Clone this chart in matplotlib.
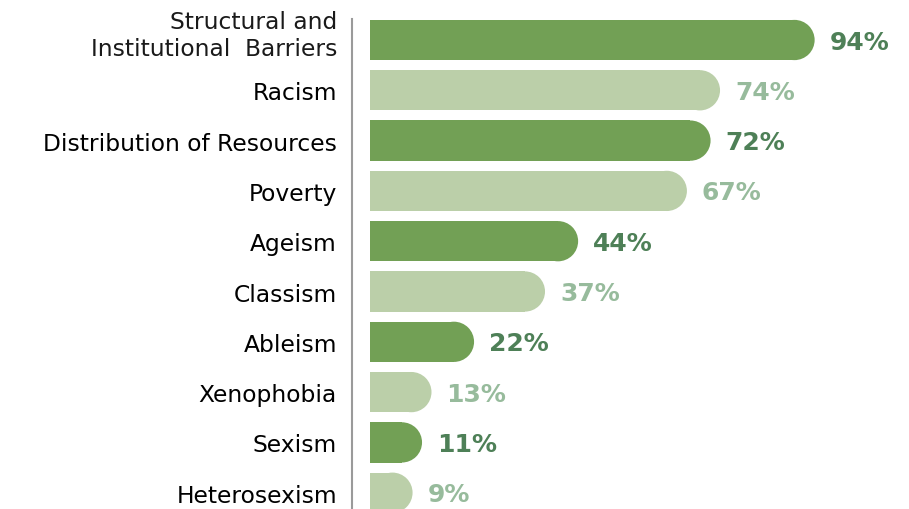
import matplotlib.pyplot as plt
from matplotlib.patches import Rectangle, Ellipse
from matplotlib.transforms import offset_copy, blended_transform_factory

categories = ["Structural and\nInstitutional  Barriers", "Racism", "Distribution of Resources",
              "Poverty", "Ageism", "Classism", "Ableism", "Xenophobia", "Sexism", "Heterosexism"]
values = [94, 74, 72, 67, 44, 37, 22, 13, 11, 9]

bar_colors = ["#72a055", "#bbcfa9"]
text_colors = ["#4e8057", "#97bb9c"]

fig = plt.figure(figsize=(9.09, 5.10), dpi=100)
ax = fig.add_axes([370 / 909, 0, 539 / 909, 490 / 510])
ax.set_xlim(0, 113.95)
ax.set_ylim(9.324, -0.4175)

# bar geometry: height in data units, rounded end radius in pixels
h = 0.8
px_per_x = 539 / 113.95
rx = (h / 2 * 50.3) / px_per_x

for i, v in enumerate(values):
    c = bar_colors[i % 2]
    ax.add_patch(Rectangle((0, i - h / 2), v - rx, h, color=c, lw=0))
    ax.add_patch(Ellipse((v - rx, i), 2 * rx, h, color=c, lw=0))
    ax.text(v, i + 0.03, f"{v}%", ha="left", va="center", fontsize=18, fontweight="bold",
            color=text_colors[i % 2],
            transform=offset_copy(ax.transData, fig=fig, x=15, y=0, units="dots"))

# the two-line label is drawn by hand so it can sit a little higher than its bar
ax.set_yticks(range(len(categories)))
ax.set_yticklabels([""] + categories[1:], color="#1a1a1a")
ax.tick_params(axis="y", length=0, pad=10.8, labelsize=16.8)
ax.set_xticks([])

lab_tr = offset_copy(blended_transform_factory(ax.transAxes, ax.transData),
                     fig=fig, x=-33, y=5, units="dots")
ax.text(0, 0, categories[0], transform=lab_tr, ha="right", va="center",
        fontsize=16.8, color="#1a1a1a", linespacing=1.25)

for s in ["top", "right", "bottom"]:
    ax.spines[s].set_visible(False)
ax.spines["left"].set_position(("outward", 13))
ax.spines["left"].set_color("#9a9a9a")
ax.spines["left"].set_linewidth(1.5)

fig.savefig("out.png", dpi=100)
